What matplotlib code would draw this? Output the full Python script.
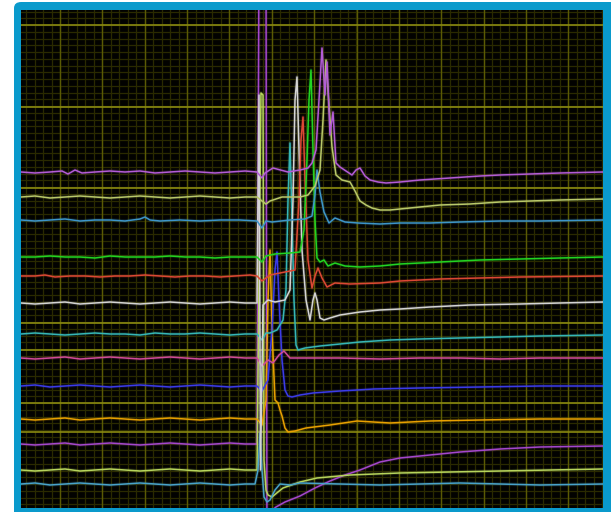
import matplotlib
matplotlib.use("Agg")
import matplotlib.pyplot as plt
from matplotlib.patches import FancyBboxPatch
import numpy as np

# traces as (sample, level) pairs
purple_top = [(21,172),(35,173),(50,172),(62,171),(68,174),(75,170),(82,173),(95,172),(110,171),(125,172),
              (140,171),(155,173),(170,172),(185,171),(200,172),(215,173),(230,172),(245,171),(257,172),
              (262,178),(265,173),(273,168),(288,172),(300,170),(308,168),(312,163),(316,150),(319,100),
              (322,48),(325,95),(327,62),(330,135),(333,112),(336,163),(340,167),(346,171),(352,175),
              (356,170),(360,168),(365,176),(370,180),(378,182),(386,183),(400,182),(420,180),(450,178),
              (480,176),(500,175),(530,174),(560,173),(603,172)]
yellow_top = [(21,197),(35,196),(50,198),(65,197),(80,196),(95,197),(110,198),(125,197),(140,196),(155,197),
              (170,198),(185,197),(200,196),(215,197),(230,198),(245,197),(257,197),(262,201),(266,204),
              (270,201),(282,197),(300,197),(308,195),(315,186),(320,170),(323,120),(326,60),(329,105),
              (332,147),(336,175),(342,180),(350,182),(355,191),(360,201),(366,205),(372,208),(380,210),
              (390,210),(400,209),(420,207),(440,205),(470,204),(500,202),(530,201),(560,200),(603,199)]
blue_top = [(21,220),(35,221),(50,220),(65,219),(80,221),(95,220),(110,220),(125,221),(140,219),(145,217),
            (150,220),(160,221),(180,220),(200,221),(220,220),(240,220),(257,221),(262,228),(266,221),
            (272,222),(290,220),(305,219),(312,216),(315,195),(317,170),(320,192),(324,212),(329,223),
            (335,218),(345,222),(358,223),(380,224),(400,223),(430,223),(460,222),(500,221),(540,221),(603,220)]
green = [(21,257),(35,257),(50,256),(65,257),(80,257),(95,258),(110,256),(125,257),(140,257),(155,257),
         (170,256),(185,257),(200,257),(215,258),(230,257),(245,257),(257,257),(262,262),(266,256),(275,254),
         (290,253),(300,252),(304,230),(307,160),(309,100),(311,70),(313,150),(315,220),(317,258),(320,262),
         (324,260),(328,266),(335,263),(345,266),(360,267),(380,266),(400,264),(440,262),(480,260),(520,259),
         (560,258),(603,257)]
red = [(21,276),(35,276),(45,275),(55,277),(70,276),(85,276),(100,277),(115,276),(130,276),(145,275),
       (160,276),(175,277),(190,276),(205,276),(220,277),(235,276),(250,275),(257,276),(262,281),(270,275),
       (285,272),(295,270),(299,200),(301,140),(303,117),(305,180),(308,260),(312,288),(315,276),(318,268),
       (322,278),(327,287),(335,283),(350,284),(380,283),(400,281),(440,279),(480,278),(520,277),(603,276)]
white = [(21,303),(35,304),(50,303),(65,302),(80,304),(95,303),(110,302),(125,303),(140,304),(155,303),
         (170,302),(185,303),(200,304),(215,303),(230,302),(245,303),(257,303),(259,95),(260.5,470),(263,305),
         (268,300),(275,302),(285,300),(290,290),(293,200),(295,100),(297,77),(299,150),(302,250),(306,300),
         (310,320),(313,300),(315,293),(317,300),(320,318),(324,320),(330,318),(340,315),(360,312),(380,310),
         (400,309),(430,307),(470,305),(520,304),(560,303),(603,302)]
cyan = [(21,334),(35,333),(50,334),(65,335),(80,334),(95,333),(110,334),(125,334),(140,335),(155,333),
        (170,334),(185,334),(200,333),(215,334),(230,335),(245,334),(257,334),(262,340),(266,333),(270,333),
        (277,330),(283,320),(286,290),(288,200),(290,143),(292,220),(294,300),(296,345),(298,350),(305,348),
        (320,346),(340,344),(360,342),(390,340),(420,339),(460,338),(500,337),(540,336),(603,335)]
magenta = [(21,358),(35,359),(50,358),(65,357),(80,359),(95,358),(110,357),(125,358),(140,359),(155,358),
           (170,357),(185,358),(200,359),(215,358),(230,357),(245,358),(257,358),(262,366),(268,360),(273,363),
           (279,355),(284,351),(290,358),(300,358),(340,358),(380,359),(420,358),(460,358),(500,359),(540,358),
           (603,358)]
blue = [(21,386),(35,385),(50,387),(65,386),(80,385),(95,386),(110,387),(125,386),(140,385),(155,386),
        (170,387),(185,386),(200,385),(215,386),(230,387),(245,386),(257,386),(262,391),(268,380),(272,330),
        (275,270),(277,252),(279,300),(282,360),(285,390),(288,396),(292,397),(300,395),(313,393),(340,391),
        (374,389),(420,388),(480,387),(540,386),(603,386)]
orange = [(21,419),(35,420),(50,419),(65,418),(80,420),(95,419),(110,418),(125,419),(140,420),(155,419),
          (170,418),(185,419),(200,420),(215,419),(230,418),(245,419),(257,419),(262,425),(266,400),(268,300),
          (270,250),(272,330),(275,400),(278,403),(280,410),(282,416),(285,428),(288,432),(295,431),(306,428),
          (330,425),(357,421),(390,423),(430,421),(480,420),(540,419),(603,419)]
purple_low = [(21,444),(35,445),(50,444),(65,443),(80,445),(95,444),(110,443),(125,444),(140,445),(155,444),
              (170,443),(185,444),(200,445),(215,444),(230,443),(245,444),(257,444),(259,-40),(266,-40),
              (267,560),(270,512),(276,507),(285,502),(300,496),(315,488),(330,481),(345,475),(360,470),
              (380,462),(400,458),(430,455),(460,452),(500,449),(540,447),(603,446)]
yellow_low = [(21,470),(35,471),(50,470),(65,469),(80,471),(95,470),(110,469),(125,470),(140,471),(155,470),
              (170,469),(185,470),(200,471),(215,470),(230,469),(245,470),(257,470),(261,93),(263,95),(264,460),
              (266,490),(268,495),(272,497),(278,492),(283,488),(300,482),(317,478),(350,475),(400,473),
              (450,472),(500,471),(550,470),(603,469)]
teal_low = [(21,484),(35,483),(50,485),(65,484),(80,483),(95,484),(110,485),(125,484),(140,483),(155,484),
            (170,485),(185,484),(200,483),(215,484),(230,485),(245,484),(255,484),(258,470),(260,433),(262,470),
            (264,497),(267,502),(270,500),(275,490),(280,484),(290,485),(300,483),(340,484),(380,485),(420,484),
            (460,483),(500,484),(540,485),(603,484)]

traces = [
    (purple_low, '#a447cc'), (yellow_low, '#b6d45c'), (teal_low, '#48a2ca'),
    (orange, '#e8a000'), (blue, '#3b3be8'), (magenta, '#d04b98'), (cyan, '#35b6b6'),
    (white, '#d4d4d4'), (red, '#dc4834'), (green, '#22d422'), (blue_top, '#3d95c9'),
    (yellow_top, '#b9c96a'), (purple_top, '#b35cd6'),
]

# reference lines on the screen (brighter horizontal ones)
ref_levels = [25, 107, 188, 323, 350, 403, 432]

fig = plt.figure(figsize=(6.11, 5.12), dpi=100)
fig.patch.set_facecolor('white')
frame = FancyBboxPatch((14/611, -0.05), (611 - 14)/611 + 0.02, 1 - 2/512 + 0.05,
                       boxstyle='round,pad=0,rounding_size=0.012',
                       transform=fig.transFigure, facecolor='#0a9acc', edgecolor='none',
                       zorder=-10)
fig.patches.append(frame)

ax = fig.add_axes([21/611, 4/512, 582/611, 498/512])
ax.set_zorder(5)
ax.set_facecolor('#020200')
ax.set_xlim(21, 603)
ax.set_ylim(508, 10)
ax.set_xticks([])
ax.set_yticks([])
for s in ax.spines.values():
    s.set_visible(False)

# scope graticule
for x in 60 + 8.47*np.arange(-5, 65):
    ax.axvline(x, color='#2a2a00', lw=0.9, zorder=1)
for y in 25 + 6.75*np.arange(-3, 75):
    ax.axhline(y, color='#2a2a00', lw=0.9, zorder=1)
for x in 60 + 42.36*np.arange(-1, 14):
    ax.axvline(x, color='#5a5a04', lw=1.0, zorder=2)
for y in ref_levels:
    ax.axhline(y, color='#8a8a10', lw=1.2, zorder=2)

for pts, col in traces:
    t, v = zip(*pts)
    ax.plot(t, v, color=col, lw=2.6, alpha=0.15, zorder=3, solid_joinstyle='round')
    ax.plot(t, v, color=col, lw=1.1, zorder=4, solid_joinstyle='round')

fig.savefig('out.png', dpi=100, facecolor=fig.get_facecolor())
